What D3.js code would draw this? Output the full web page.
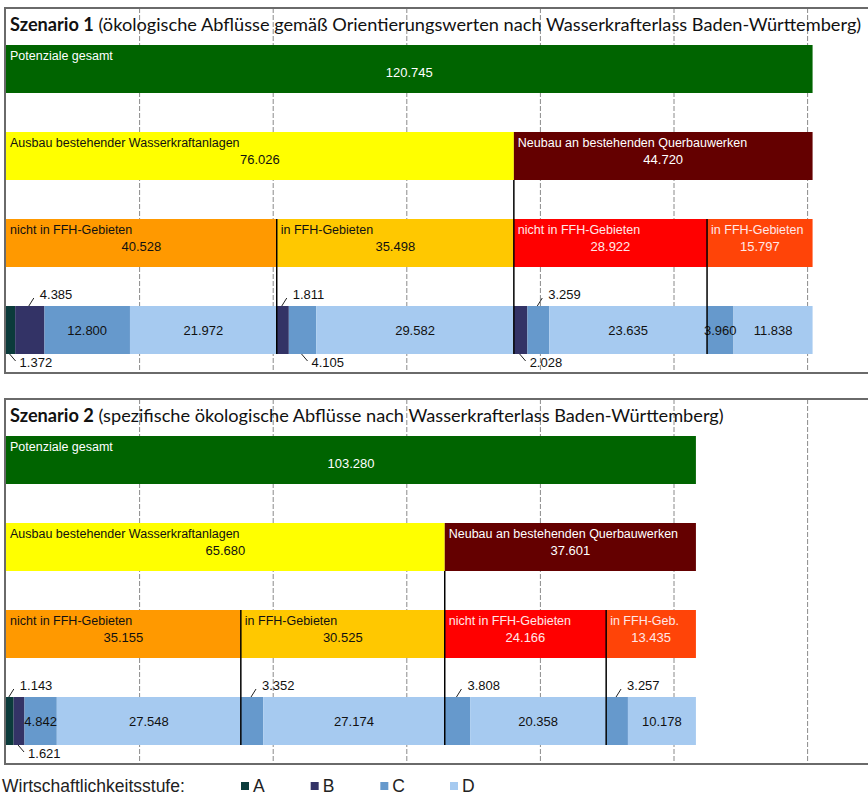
<!DOCTYPE html>
<html>
<head>
<meta charset="utf-8">
<script src="https://cdn.jsdelivr.net/npm/d3@7"></script>
<style>
body { margin: 0; background: #fff; }
svg { display: block; }
</style>
</head>
<body>
<div id="chart"></div>
<script>
// Potenziale in MWh/a
var scenarioNames = ["Szenario 1", "Szenario 2"];
var scenarioTitles = [
    "(ökologische Abflüsse gemäß Orientierungswerten nach Wasserkrafterlass Baden-Württemberg)",
    "(spezifische ökologische Abflüsse nach Wasserkrafterlass Baden-Württemberg)"
];
var totalName = "Potenziale gesamt";
var totalValues = [120745, 103280];
var mainNames = ["Ausbau bestehender Wasserkraftanlagen", "Neubau an bestehenden Querbauwerken"];
var mainValues = [[76026, 44720], [65680, 37601]];
var ffhNames = [
    ["nicht in FFH-Gebieten", "in FFH-Gebieten", "nicht in FFH-Gebieten", "in FFH-Gebieten"],
    ["nicht in FFH-Gebieten", "in FFH-Gebieten", "nicht in FFH-Gebieten", "in FFH-Geb."]
];
var ffhValues = [[40528, 35498, 28922, 15797], [35155, 30525, 24166, 13435]];
var stufen = ["A", "B", "C", "D"];
var stufeA = [[1372, 0, 0, 0], [1143, 0, 0, 0]];
var stufeB = [[4385, 1811, 2028, 0], [1621, 0, 0, 0]];
var stufeC = [[12800, 4105, 3259, 3960], [4842, 3352, 3808, 3257]];
var stufeD = [[21972, 29582, 23635, 11838], [27548, 27174, 20358, 10178]];

// where the value label of each stacked segment goes
var labelPos = [
    [["below", "above", "in", "in"], ["in", "above", "below", "in"], ["in", "below", "above", "in"], ["in", "in", "in", "in"]],
    [["above", "below", "in", "in"], ["in", "in", "above", "in"], ["in", "in", "above", "in"], ["in", "in", "above", "in"]]
];

var W = 868, H = 797;
var svg = d3.select("#chart").append("svg")
    .attr("width", W)
    .attr("height", H)
    .attr("font-family", "'Liberation Sans', Arial, sans-serif");

var x = d3.scaleLinear().domain([0, 140000]).range([6, 6 + 140 * 6.68]);
var fmt = d3.formatLocale({decimal: ",", thousands: ".", grouping: [3], currency: ["", " €"]}).format(",d");

var panelTops = [8, 399];
var titleRight = [862, 724];
var rowKeys = ["gesamt", "haupt", "ffh", "stufe"];
var rowFill = {
    gesamt: ["#006400"],
    haupt: ["#ffff00", "#640000"],
    ffh: ["#ff9900", "#ffc800", "#ff0000", "#ff4408"]
};
var rowText = {
    gesamt: ["#fff"],
    haupt: ["#111", "#fff"],
    ffh: ["#111", "#111", "#ffe8e8", "#ffe8e8"]
};
var stufeColour = d3.scaleOrdinal().domain(stufen).range(["#0b3b3b", "#333366", "#6699cc", "#a6caf0"]);

function cumulate(values){
    var acc = 0;
    return values.map(function(v){
        var s = acc;
        acc += v;
        return s;
    });
}

function drawPanel(s){
    var top = panelTops[s];
    var y = d3.scaleBand().domain(rowKeys)
        .range([top + 37, top + 37 + 309])
        .paddingInner(39 / 87)
        .paddingOuter(0);
    var bw = y.bandwidth();
    var bottom = y("stufe") + bw + 19;
    var g = svg.append("g");

    // dashed gridlines
    g.selectAll("line.grid")
        .data(x.ticks(7).filter(function(d){ return d > 0; }))
        .join("line")
        .attr("class", "grid")
        .attr("x1", x).attr("x2", x)
        .attr("y1", top).attr("y2", bottom)
        .attr("stroke", "#8a8a8a")
        .attr("stroke-dasharray", "5,2");

    // frame (open to the right, cut by the page)
    g.append("path")
        .attr("d", "M" + (W + 5) + "," + top + "H5V" + bottom + "H" + (W + 5))
        .attr("fill", "none")
        .attr("stroke", "#6a6a6a")
        .attr("stroke-width", 2);

    // title
    var t = g.append("text")
        .attr("x", 10)
        .attr("y", top + 23)
        .attr("font-family", "Lato, 'Open Sans', sans-serif")
        .attr("font-size", 20)
        .attr("fill", "#111");
    t.append("tspan").attr("font-weight", "bold").text(scenarioNames[s]);
    t.append("tspan").text(" " + scenarioTitles[s]);
    var len = t.node().getComputedTextLength();
    t.attr("font-size", 20 * (titleRight[s] - 10) / len);

    // the three upper rows
    var rows = [
        {key: "gesamt", names: [totalName], values: [totalValues[s]]},
        {key: "haupt", names: mainNames, values: mainValues[s]},
        {key: "ffh", names: ffhNames[s], values: ffhValues[s]}
    ];
    rows.forEach(function(row){
        var starts = cumulate(row.values);
        var bars = row.values.map(function(v, i){
            return {name: row.names[i], value: v, start: starts[i],
                    fill: rowFill[row.key][i], text: rowText[row.key][i]};
        });
        var bg = g.selectAll("g.bar-" + row.key).data(bars).join("g").attr("class", "bar-" + row.key);
        bg.append("rect")
            .attr("x", function(d){ return x(d.start); })
            .attr("y", y(row.key))
            .attr("width", function(d){ return x(d.start + d.value) - x(d.start); })
            .attr("height", bw)
            .attr("fill", function(d){ return d.fill; });
        bg.append("text")
            .attr("x", function(d){ return x(d.start) + 4; })
            .attr("y", y(row.key) + 15)
            .attr("font-size", 12.5)
            .attr("fill", function(d){ return d.text; })
            .text(function(d){ return d.name; });
        bg.append("text")
            .attr("x", function(d){ return (x(d.start) + x(d.start + d.value)) / 2; })
            .attr("y", y(row.key) + 32)
            .attr("text-anchor", "middle")
            .attr("font-size", 13)
            .attr("fill", function(d){ return d.text; })
            .text(function(d){ return fmt(d.value); });
    });

    // stacked row: Wirtschaftlichkeitsstufen per group
    var groupStarts = cumulate(ffhValues[s]);
    var groups = groupStarts.map(function(gs, i){
        return {A: stufeA[s][i], B: stufeB[s][i], C: stufeC[s][i], D: stufeD[s][i]};
    });
    var stacked = d3.stack().keys(stufen)(groups);
    var segs = [];
    stacked.forEach(function(layer, k){
        layer.forEach(function(d, i){
            var v = d[1] - d[0];
            if (v <= 0) return;
            segs.push({key: layer.key, value: v, x0: groupStarts[i] + d[0], x1: groupStarts[i] + d[1],
                       pos: labelPos[s][i][k]});
        });
    });
    var sy = y("stufe");
    g.selectAll("rect.seg").data(segs).join("rect")
        .attr("class", "seg")
        .attr("x", function(d){ return x(d.x0); })
        .attr("y", sy)
        .attr("width", function(d){ return x(d.x1) - x(d.x0); })
        .attr("height", bw)
        .attr("fill", function(d){ return stufeColour(d.key); });

    segs.forEach(function(d){
        var cx = (x(d.x0) + x(d.x1)) / 2;
        if (d.pos == "in"){
            g.append("text")
                .attr("x", cx)
                .attr("y", sy + bw / 2 + 5)
                .attr("text-anchor", "middle")
                .attr("font-size", 13)
                .attr("fill", "#111")
                .text(fmt(d.value));
        }
        else if (d.pos == "above"){
            g.append("line")
                .attr("x1", cx - 1).attr("y1", sy)
                .attr("x2", cx + 4).attr("y2", sy - 8)
                .attr("stroke", "#222");
            g.append("text")
                .attr("x", cx + 10)
                .attr("y", sy - 7)
                .attr("font-size", 13)
                .attr("fill", "#111")
                .text(fmt(d.value));
        }
        else {
            g.append("line")
                .attr("x1", cx - 1).attr("y1", sy + bw)
                .attr("x2", cx + 5).attr("y2", sy + bw + 7)
                .attr("stroke", "#222");
            g.append("text")
                .attr("x", cx + 9)
                .attr("y", sy + bw + 13)
                .attr("font-size", 13)
                .attr("fill", "#111")
                .text(fmt(d.value));
        }
    });

    // black separators between groups
    var mainStarts = cumulate(mainValues[s]);
    groupStarts.slice(1).forEach(function(gs){
        var fromMain = mainStarts.indexOf(gs) > 0;
        g.append("line")
            .attr("x1", x(gs)).attr("x2", x(gs))
            .attr("y1", fromMain ? y("haupt") + bw : y("ffh"))
            .attr("y2", sy + bw)
            .attr("stroke", "#000")
            .attr("stroke-width", 1.5);
    });
}

drawPanel(0);
drawPanel(1);

// legend
var legend = svg.append("g");
legend.append("text")
    .attr("x", 2)
    .attr("y", 792)
    .attr("font-size", 17.5)
    .attr("fill", "#222")
    .text("Wirtschaftlichkeitsstufe:");
var lx = d3.scalePoint().domain(stufen).range([241, 450]);
var items = legend.selectAll("g.item").data(stufen).join("g").attr("class", "item");
items.append("rect")
    .attr("x", function(d){ return lx(d); })
    .attr("y", 782)
    .attr("width", 8)
    .attr("height", 8)
    .attr("fill", function(d){ return stufeColour(d); });
items.append("text")
    .attr("x", function(d){ return lx(d) + 12; })
    .attr("y", 792)
    .attr("font-size", 17.5)
    .attr("fill", "#222")
    .text(function(d){ return d; });
</script>
</body>
</html>
